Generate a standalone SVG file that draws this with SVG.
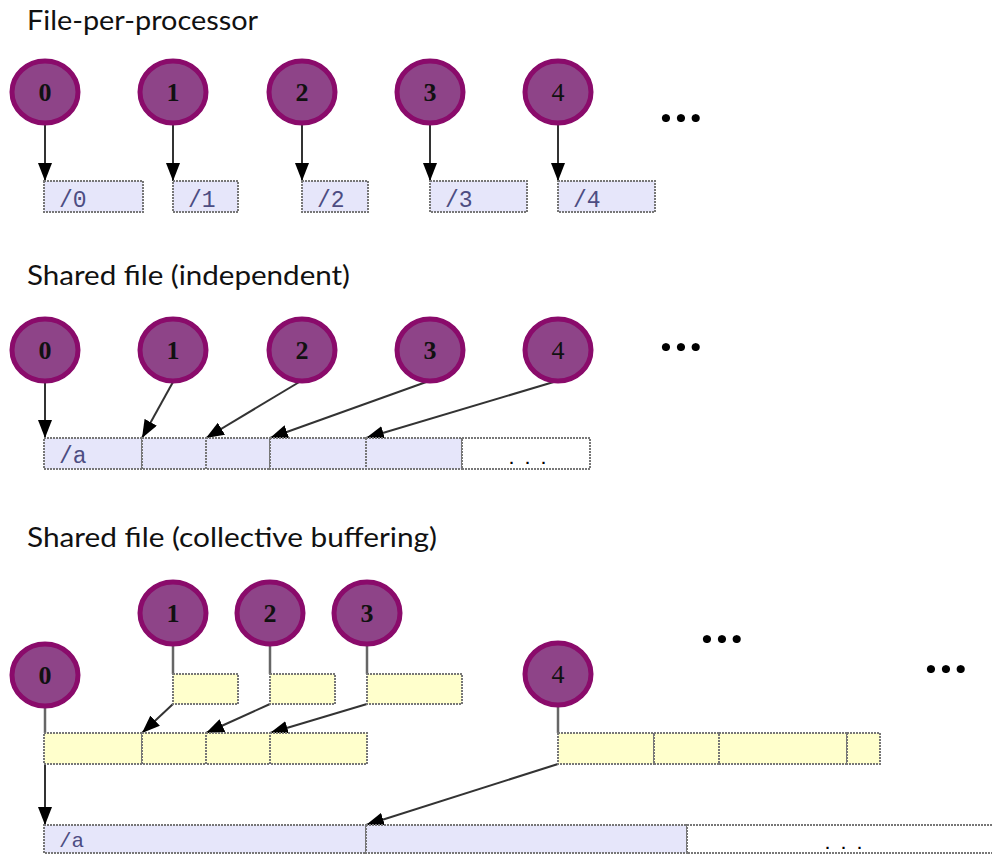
<svg xmlns="http://www.w3.org/2000/svg" width="992" height="855" viewBox="0 0 992 855">
<defs>
<marker id="ah" markerUnits="userSpaceOnUse" markerWidth="18" markerHeight="14" refX="18" refY="7" orient="auto">
<path d="M0,0 L18,7 L0,14 z" fill="#000"/>
</marker>
<style>
.title{font-family:Lato,"Open Sans","Noto Sans",sans-serif;font-size:26px;fill:#111}
.proc ellipse{fill:#8e4488;stroke:#8a0b6b;stroke-width:5}
.proc text{font-family:"Liberation Serif",serif;font-weight:bold;font-size:26px;fill:#111;text-anchor:middle}
.proc text.n{font-weight:normal}
.f{fill:#e6e6fa;stroke:#777;stroke-width:2;stroke-dasharray:2 1}
.w{fill:#fff;stroke:#777;stroke-width:2;stroke-dasharray:2 1}
.y{fill:#ffffcc;stroke:#777;stroke-width:2;stroke-dasharray:2 1}
.ft{font-family:"Liberation Mono",monospace;font-size:23px;fill:#4d4d82}
.fts{font-family:"Liberation Mono",monospace;font-size:21px;fill:#4d4d82}
.fd{font-family:"Liberation Mono",monospace;font-weight:bold;font-size:15px;fill:#000;letter-spacing:7px}
.dots{font-family:Lato,sans-serif;font-weight:900;font-size:50px;fill:#000;letter-spacing:3px}
.arr{stroke:#333;stroke-width:2;fill:none;marker-end:url(#ah)}
.ln{stroke:#666;stroke-width:2.5;fill:none}
</style>
</defs>
<rect width="992" height="855" fill="#fff"/>

<text class="title" x="27" y="30" textLength="231" lengthAdjust="spacingAndGlyphs">File-per-processor</text>
<text class="title" x="27" y="285" textLength="323" lengthAdjust="spacingAndGlyphs">Shared file (independent)</text>
<text class="title" x="27" y="547" textLength="410" lengthAdjust="spacingAndGlyphs">Shared file (collective buffering)</text>

<g id="connectors">
<line class="arr" x1="45" y1="125" x2="45" y2="181"/>
<line class="arr" x1="173" y1="125" x2="173" y2="181"/>
<line class="arr" x1="302" y1="125" x2="302" y2="181"/>
<line class="arr" x1="430" y1="125" x2="430" y2="181"/>
<line class="arr" x1="558" y1="125" x2="558" y2="181"/>

<line class="arr" x1="45" y1="383" x2="45" y2="438"/>
<line class="arr" x1="173" y1="382" x2="142" y2="438"/>
<line class="arr" x1="301" y1="381" x2="206" y2="438"/>
<line class="arr" x1="429" y1="381" x2="270" y2="438"/>
<line class="arr" x1="557" y1="381" x2="366" y2="438"/>

<line class="ln" x1="173" y1="646" x2="173" y2="674"/>
<line class="ln" x1="270" y1="646" x2="270" y2="674"/>
<line class="ln" x1="367" y1="646" x2="367" y2="674"/>
<line class="ln" x1="45" y1="707" x2="45" y2="733"/>
<line class="ln" x1="558" y1="706" x2="558" y2="733"/>
<line class="arr" x1="173" y1="704" x2="142" y2="733"/>
<line class="arr" x1="270" y1="704" x2="206" y2="733"/>
<line class="arr" x1="367" y1="704" x2="270" y2="733"/>
<line class="arr" x1="45" y1="764" x2="45" y2="825"/>
<line class="arr" x1="558" y1="764" x2="366" y2="825"/>
</g>

<g id="p1-0" class="proc"><ellipse cx="45" cy="92" rx="33" ry="31"/><text x="45" y="101">0</text></g>
<g id="p1-1" class="proc"><ellipse cx="173" cy="92" rx="33" ry="31"/><text x="173" y="101">1</text></g>
<g id="p1-2" class="proc"><ellipse cx="302" cy="92" rx="33" ry="31"/><text x="302" y="101">2</text></g>
<g id="p1-3" class="proc"><ellipse cx="430" cy="92" rx="33" ry="31"/><text x="430" y="101">3</text></g>
<g id="p1-4" class="proc"><ellipse cx="558" cy="92" rx="33" ry="31"/><text class="n" x="558" y="101">4</text></g>
<text class="dots" x="660" y="122">...</text>

<g id="f1-0"><rect class="f" x="44" y="181" width="99" height="31"/><text class="ft" x="59" y="207">/0</text></g>
<g id="f1-1"><rect class="f" x="173" y="181" width="65" height="31"/><text class="ft" x="188" y="207">/1</text></g>
<g id="f1-2"><rect class="f" x="302" y="181" width="66" height="31"/><text class="ft" x="317" y="207">/2</text></g>
<g id="f1-3"><rect class="f" x="430" y="181" width="97" height="31"/><text class="ft" x="445" y="207">/3</text></g>
<g id="f1-4"><rect class="f" x="558" y="181" width="97" height="31"/><text class="ft" x="573" y="207">/4</text></g>

<g id="p2-0" class="proc"><ellipse cx="45" cy="350" rx="33" ry="31"/><text x="45" y="359">0</text></g>
<g id="p2-1" class="proc"><ellipse cx="173" cy="350" rx="33" ry="31"/><text x="173" y="359">1</text></g>
<g id="p2-2" class="proc"><ellipse cx="302" cy="350" rx="33" ry="31"/><text x="302" y="359">2</text></g>
<g id="p2-3" class="proc"><ellipse cx="430" cy="350" rx="33" ry="31"/><text x="430" y="359">3</text></g>
<g id="p2-4" class="proc"><ellipse cx="558" cy="350" rx="33" ry="31"/><text class="n" x="558" y="359">4</text></g>
<text class="dots" x="660" y="351">...</text>

<g id="f2">
<rect class="f" x="44" y="438" width="98" height="31"/>
<rect class="f" x="142" y="438" width="64" height="31"/>
<rect class="f" x="206" y="438" width="64" height="31"/>
<rect class="f" x="270" y="438" width="96" height="31"/>
<rect class="f" x="366" y="438" width="96" height="31"/>
<rect class="w" x="462" y="438" width="128" height="31"/>
<text class="ft" x="59" y="463">/a</text>
<text class="fd" x="507" y="464">...</text>
</g>

<g id="p3-1" class="proc"><ellipse cx="173" cy="613" rx="33" ry="31"/><text x="173" y="622">1</text></g>
<g id="p3-2" class="proc"><ellipse cx="270" cy="613" rx="33" ry="31"/><text x="270" y="622">2</text></g>
<g id="p3-3" class="proc"><ellipse cx="367" cy="613" rx="33" ry="31"/><text x="367" y="622">3</text></g>
<g id="p3-0" class="proc"><ellipse cx="45" cy="675" rx="33" ry="31"/><text x="45" y="684">0</text></g>
<g id="p3-4" class="proc"><ellipse cx="558" cy="674" rx="33" ry="31"/><text class="n" x="558" y="683">4</text></g>
<text class="dots" x="701" y="643">...</text>
<text class="dots" x="925" y="673">...</text>

<g id="b3-1"><rect class="y" x="173" y="674" width="65" height="30"/></g>
<g id="b3-2"><rect class="y" x="270" y="674" width="65" height="30"/></g>
<g id="b3-3"><rect class="y" x="367" y="674" width="95" height="30"/></g>

<g id="agg0">
<rect class="y" x="44" y="733" width="98" height="31"/>
<rect class="y" x="142" y="733" width="64" height="31"/>
<rect class="y" x="206" y="733" width="64" height="31"/>
<rect class="y" x="270" y="733" width="97" height="31"/>
</g>
<g id="agg4">
<rect class="y" x="558" y="733" width="96" height="31"/>
<rect class="y" x="654" y="733" width="65" height="31"/>
<rect class="y" x="719" y="733" width="128" height="31"/>
<rect class="y" x="847" y="733" width="33" height="31"/>
</g>

<g id="f3">
<rect class="f" x="44" y="825" width="322" height="28"/>
<rect class="f" x="366" y="825" width="321" height="28"/>
<rect class="w" x="687" y="825" width="310" height="28"/>
<text class="fts" x="59" y="847">/a</text>
<text class="fd" x="823" y="849">...</text>
</g>
</svg>
